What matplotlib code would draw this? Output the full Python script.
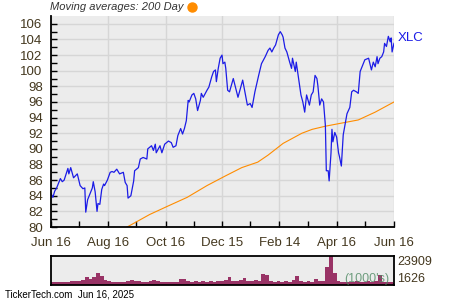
import numpy as np
import pandas as pd
import matplotlib
matplotlib.use("Agg")
import matplotlib.pyplot as plt
import matplotlib.dates as mdates

# ----------------------------------------------------
# Datos (XLC, un año)
inicio = pd.Timestamp("2024-06-16")

# dias desde el 16 jun 2024 y precio de cierre
dias_precio = [0, 2, 4, 6, 10, 12, 14, 18, 19, 21, 24, 28, 31, 34, 36, 37, 39, 42, 44, 45,
               47, 49, 50, 52, 54, 56, 57, 60, 63, 65, 67, 70, 73, 77, 79, 81, 82, 85, 88, 89,
               93, 95, 98, 102, 103, 107, 109, 111, 112, 116, 118, 121, 125, 128, 130, 133, 135, 138, 140, 142,
               144, 146, 147, 150, 152, 154, 156, 159, 160, 162, 166, 168, 171, 173, 175, 176, 178, 180, 182, 183,
               185, 186, 188, 190, 194, 199, 204, 206, 209, 212, 214, 217, 221, 224, 228, 231, 233, 235, 237, 239,
               242, 244, 246, 247, 249, 251, 254, 256, 257, 260, 261, 263, 266, 268, 270, 272, 275, 277, 279, 281,
               283, 284, 286, 288, 290, 292, 293, 295, 296, 298, 299, 300, 302, 304, 306, 307, 309, 311, 315, 318,
               320, 322, 325, 327, 329, 331, 334, 338, 341, 343, 345, 347, 348, 350, 352, 354, 355, 357, 359, 361,
               362, 363, 365]
precio = [84.3, 83.8, 84.6, 85.0, 86.2, 85.8, 86.0, 87.5, 86.8, 87.6, 86.3, 86.8, 85.3, 84.9, 85.0, 81.9, 83.5, 84.4, 85.0, 85.8,
          84.5, 82.0, 83.0, 82.9, 84.8, 85.5, 85.3, 86.0, 87.0, 87.1, 87.0, 87.4, 86.8, 87.0, 85.7, 85.3, 83.7, 84.0, 85.9, 87.2,
          87.6, 88.7, 88.9, 88.7, 90.0, 90.4, 89.8, 90.6, 89.5, 90.4, 89.5, 90.6, 91.0, 90.8, 90.2, 90.4, 91.7, 92.6, 91.9, 92.6,
          93.6, 96.2, 96.0, 96.9, 97.1, 96.4, 94.9, 96.2, 97.1, 96.6, 97.5, 97.9, 99.2, 99.9, 100.1, 98.6, 100.3, 101.6, 102.0, 100.9,
          101.1, 100.3, 97.5, 97.3, 99.0, 96.6, 98.8, 97.5, 95.6, 95.8, 95.3, 97.3, 99.4, 100.9, 101.8, 102.6, 102.9, 102.4, 102.9, 103.3,
          104.6, 105.0, 104.6, 104.3, 102.9, 102.4, 101.1, 100.3, 101.6, 99.9, 101.1, 99.4, 96.9, 96.0, 94.7, 96.9, 95.6, 96.9, 97.3, 99.4,
          99.0, 98.1, 95.6, 96.4, 96.0, 93.0, 87.2, 87.2, 85.9, 89.5, 92.5, 90.9, 92.1, 91.5, 89.5, 89.0, 87.8, 91.8, 94.5, 95.3,
          97.3, 97.5, 97.3, 97.1, 99.9, 100.5, 101.4, 101.6, 100.1, 101.1, 100.5, 101.8, 100.9, 101.6, 101.8, 102.4, 103.5, 103.1, 104.4, 103.7,
          104.2, 102.4, 103.5]

# media movil de 200 dias
dias_media = [70, 81, 105, 123, 145, 166, 185, 203, 220, 231, 247, 267, 278, 292, 305, 327, 345, 365]
media_200 = [79.3, 80.0, 81.6, 82.6, 83.8, 85.3, 86.5, 87.6, 88.3, 89.2, 90.7, 92.0, 92.5, 92.9, 93.2, 93.7, 94.7, 96.0]

# volumen en miles, cada 4 dias
dias_volumen = np.arange(0, 368, 4)
volumen = [3930, 3930, 3550, 3930, 3930, 4700, 4700, 5080, 5470, 7770,
           6230, 7770, 10840, 8540, 5470, 4700, 3930, 3930, 4310, 3930,
           4700, 5470, 4700, 5080, 4310, 3930, 4700, 5470, 4700, 3930,
           4310, 3930, 4310, 3930, 6230, 6230, 4700, 4310, 4700, 3930,
           4700, 4310, 4700, 3930, 4700, 5080, 5470, 7770, 4700, 4700,
           5470, 7000, 4700, 4700, 5470, 5080, 10070, 9310, 4700, 4310,
           4700, 3930, 4700, 4310, 5470, 8540, 4700, 4310, 4700, 3930,
           6230, 4700, 5080, 15450, 23909, 10840, 4700, 4310, 3930, 4310,
           3930, 4700, 3930, 4310, 4700, 3930, 4700, 9310, 3930, 3550,
           3930, 3160]
vol_min, vol_max = 1626, 23909

etiquetas_x = ["Jun 16", "Aug 16", "Oct 16", "Dec 15", "Feb 14", "Apr 16", "Jun 16"]
fechas_x = ["2024-06-16", "2024-08-16", "2024-10-16", "2024-12-15", "2025-02-14", "2025-04-16", "2025-06-16"]
fechas_menor = ["2024-07-16", "2024-09-15", "2024-11-15", "2025-01-14", "2025-03-16", "2025-05-16"]

# ----------------------------------------------------
plt.rcParams['font.family'] = ['Liberation Sans', 'DejaVu Sans']
color_texto = '#44381f'
fondo = '#ececec'

f_precio = inicio + pd.to_timedelta(dias_precio, unit="D")
f_media = inicio + pd.to_timedelta(dias_media, unit="D")
f_vol = inicio + pd.to_timedelta(dias_volumen, unit="D")
fin = pd.Timestamp("2025-06-16")

fig = plt.figure(figsize=(4.5, 3), dpi=100)
ax = fig.add_axes([0.1133, 0.2433, 0.7622, 0.7033])
ax_v = fig.add_axes([0.1133, 0.05, 0.7622, 0.0967])

# Grafico principal
ax.set_facecolor(fondo)
ax.plot(f_media, media_200, color='#ff8c00', lw=0.8)
ax.plot(f_precio, precio, color='#1c1ce6', lw=0.9)
ax.set_xlim(inicio, fin)
ax.set_ylim(80, 107)
ax.set_yticks(np.arange(80, 107, 2))
ax.set_yticks(np.arange(81, 107, 2), minor=True)
ax.set_xticks(pd.to_datetime(fechas_x))
ax.set_xticklabels(etiquetas_x)
ax.set_xticks(pd.to_datetime(fechas_menor), minor=True)
ax.grid(True, which='major', color='#d6d6d6', lw=1.0)
ax.set_axisbelow(True)
ax.tick_params(which='both', direction='in', length=4, width=1, colors='black',
               labelcolor=color_texto, labelsize=9.5)
ax.tick_params(axis='y', pad=6)
ax.tick_params(axis='x', pad=7)
for lado in ['top', 'right']:
    ax.spines[lado].set_visible(False)
for lado in ['left', 'bottom']:
    ax.spines[lado].set_linewidth(1.3)

ax.annotate("XLC", xy=(f_precio[-1], precio[-1]), xytext=(3, 4), textcoords='offset points',
            color='#1c1ce6', fontsize=9.5, va='center', ha='left', annotation_clip=False)

fig.text(0.111, 0.977, "Moving averages: 200 Day", fontsize=8, style='italic',
         color='#333333', va='center', ha='left')
fig.lines.append(plt.Line2D([0.4267], [0.977], marker='o', markersize=6.5, color='#ff8c00',
                            transform=fig.transFigure))

# Panel de volumen
ax_v.set_facecolor(fondo)
ax_v.bar(f_vol, volumen, width=4, align='edge', color='#993366', lw=0)
ax_v.set_xlim(inicio, fin)
ax_v.set_ylim(vol_min, vol_max)
ax_v.set_xticks([])
ax_v.set_yticks([])
for lado in ax_v.spines:
    ax_v.spines[lado].set_linewidth(1.3)
ax_v.text(1.01, 1.0, str(vol_max), transform=ax_v.transAxes, fontsize=9,
          color=color_texto, va='top', ha='left')
ax_v.text(1.01, 0.0, str(vol_min), transform=ax_v.transAxes, fontsize=9,
          color=color_texto, va='bottom', ha='left')
ax_v.text(0.988, 0.0, "(1000's)", transform=ax_v.transAxes, fontsize=9,
          color='#4f8a63', alpha=0.8, va='bottom', ha='right')

fig.text(0.011, 0.017, "TickerTech.com  Jun 16, 2025", fontsize=7, color='black',
         va='center', ha='left')

plt.savefig("out.png", dpi=100)
